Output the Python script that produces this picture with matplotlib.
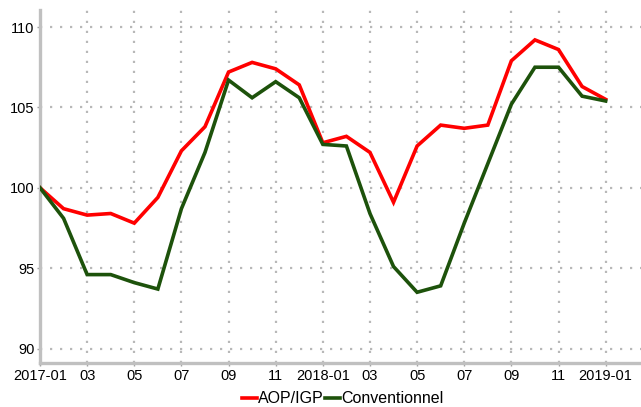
import matplotlib
matplotlib.use("Agg")
import matplotlib.pyplot as plt
import numpy as np

plt.rcParams['font.family'] = ['Liberation Sans', 'DejaVu Sans']

months = ["2017-01", "2017-02", "2017-03", "2017-04", "2017-05", "2017-06", "2017-07",
          "2017-08", "2017-09", "2017-10", "2017-11", "2017-12", "2018-01", "2018-02",
          "2018-03", "2018-04", "2018-05", "2018-06", "2018-07", "2018-08", "2018-09",
          "2018-10", "2018-11", "2018-12", "2019-01"]
aop_igp = [100.0, 98.7, 98.3, 98.4, 97.8, 99.4, 102.3, 103.8, 107.2, 107.8, 107.4, 106.4,
           102.8, 103.2, 102.2, 99.1, 102.6, 103.9, 103.7, 103.9, 107.9, 109.2, 108.6, 106.3, 105.5]
conventionnel = [100.0, 98.1, 94.6, 94.6, 94.1, 93.7, 98.7, 102.2, 106.7, 105.6, 106.6, 105.6,
                 102.7, 102.6, 98.4, 95.1, 93.5, 93.9, 97.8, 101.5, 105.2, 107.5, 107.5, 105.7, 105.4]
tick_labels = ["2017-01", "03", "05", "07", "09", "11", "2018-01", "03", "05", "07", "09", "11", "2019-01"]
y_ticks = [90, 95, 100, 105, 110]

fig = plt.figure(figsize=(6.41, 4.07), dpi=100)
ax = fig.add_axes([40/641, 44/407, 1 - 40/641, (363 - 10)/407])

x = np.arange(len(months))
ax.plot(x, aop_igp, color='#ff0000', lw=2.6, label='AOP/IGP', solid_joinstyle='miter', zorder=3)
ax.plot(x, conventionnel, color='#1d520b', lw=2.6, label='Conventionnel', solid_joinstyle='miter', zorder=3)

ax.set_xlim(0, 25.5)
ax.set_ylim(89.1, 111.06)
ax.set_xticks(x[::2])
ax.set_xticklabels(tick_labels)
ax.set_yticks(y_ticks)

for s in ['top', 'right']:
    ax.spines[s].set_visible(False)
for s in ['left', 'bottom']:
    ax.spines[s].set_color('#c0c0c0')
    ax.spines[s].set_linewidth(2.4)

ax.tick_params(axis='both', colors='#a0a0a0', labelcolor='black', labelsize=10.5, length=2, width=1, pad=2)
ax.grid(True, color='#b8b8b8', linestyle=(0, (1, 3.5)), linewidth=1.6)
ax.set_axisbelow(True)

fig.legend(loc='center', bbox_to_anchor=(0.535, 0.02), ncol=2, frameon=False,
           fontsize=11.5, handlelength=0.9, handletextpad=0.1, columnspacing=0.1)

fig.savefig('out.png', dpi=100)
